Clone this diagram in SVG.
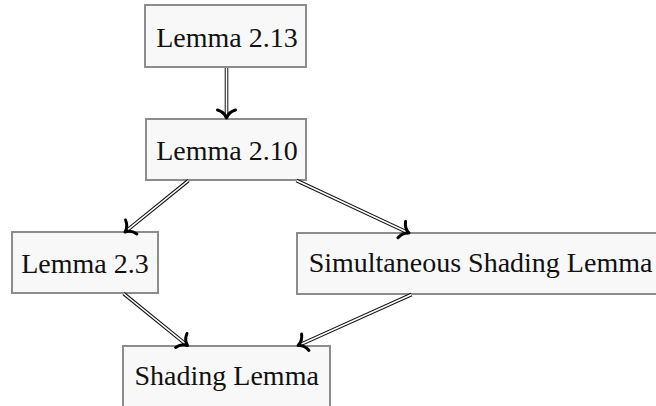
<svg xmlns="http://www.w3.org/2000/svg" width="656" height="406" viewBox="0 0 656 406">
<style>
.box{fill:#f8f8f8;stroke:#8c8c8c;stroke-width:2}
.lbl{font-family:"Liberation Serif","Times New Roman",serif;font-size:28px;fill:#111;text-anchor:middle}
.outer{fill:none;stroke:#111;stroke-width:3.6}
.inner{fill:none;stroke:#fff;stroke-width:1.6}
.ah{fill:none;stroke:#000;stroke-width:3;stroke-linecap:round;stroke-linejoin:round}
</style>
<defs>
<path id="to" d="M -8,-9 C -6.5,-3.8 -2.8,-1 0,0 C -2.8,1 -6.5,3.8 -8,9"/>
</defs>
<rect width="656" height="406" fill="#fff"/>
<g id="n213"><rect class="box" x="145" y="5" width="161" height="62"/><text class="lbl" x="227" y="46.5">Lemma 2.13</text></g>
<g id="n210"><rect class="box" x="146" y="119" width="160" height="61"/><text class="lbl" x="227" y="160">Lemma 2.10</text></g>
<g id="n23"><rect class="box" x="12" y="232" width="146" height="61"/><text class="lbl" x="85" y="272.5">Lemma 2.3</text></g>
<g id="nsim"><rect class="box" x="297" y="233" width="367" height="61"/><text class="lbl" x="480.5" y="272">Simultaneous Shading Lemma</text></g>
<g id="nshade"><rect class="box" x="123" y="346" width="207" height="61"/><text class="lbl" x="226.7" y="385">Shading Lemma</text></g>
<g id="connectors">
<path class="outer" d="M226.5,68 L226.5,117.5"/><path class="inner" d="M226.5,68 L226.5,116"/>
<use class="ah" href="#to" transform="translate(226.5,118) rotate(90)"/>
<path class="outer" d="M188.5,180.5 L125.4,231.7"/><path class="inner" d="M188.5,180.5 L126.6,230.7"/>
<use class="ah" href="#to" transform="translate(125,232) rotate(140.96)"/>
<path class="outer" d="M296.5,180.5 L408.5,232.8"/><path class="inner" d="M296.5,180.5 L407.2,232.2"/>
<use class="ah" href="#to" transform="translate(409,233) rotate(25.02)"/>
<path class="outer" d="M123.5,293.5 L187.1,345.2"/><path class="inner" d="M123.5,293.5 L185.9,344.2"/>
<use class="ah" href="#to" transform="translate(187.5,345.5) rotate(39.09)"/>
<path class="outer" d="M411.5,294.5 L298.5,345.3"/><path class="inner" d="M411.5,294.5 L299.9,344.7"/>
<use class="ah" href="#to" transform="translate(298,345.5) rotate(155.8)"/>
</g>
</svg>
